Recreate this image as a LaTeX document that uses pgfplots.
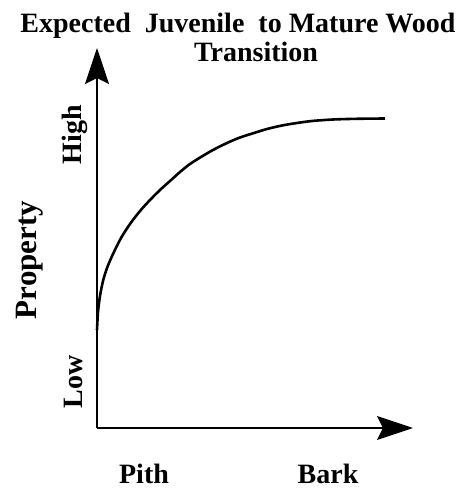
\documentclass[border=0pt]{standalone}
\usepackage{pgfplots}
\pgfplotsset{compat=1.18}
\usepackage{fontspec}
\setmainfont{Liberation Serif}
\usetikzlibrary{arrows.meta}

\begin{document}
\begin{tikzpicture}
\begin{axis}[
    anchor=origin, at={(0pt,0pt)},
    scale only axis,
    width=316pt, height=380pt,
    xmin=0, xmax=316,
    ymin=0, ymax=380,
    axis lines=left,
    axis line style={line width=1.8pt, -{Stealth[length=36pt,width=24pt,inset=6pt]}},
    xtick=\empty, ytick=\empty,
    clip=false,
]
% schematic curve, pixel-ish units measured from the origin
\addplot[line width=2.6pt, smooth] coordinates {
    (0,98) (1,116) (3,132) (6,147) (10,160) (16,174) (24,190) (33,204)
    (43,217) (53,228) (63,238) (73,247) (83,256) (93,264) (104,271)
    (116,278) (130,285) (143,290.5) (157,295) (170,299) (185,302.5)
    (200,305) (215,307) (236,308.5) (260,309.2) (288,309.5)
};
\end{axis}

% title and labels
\begin{scope}[font=\bfseries\fontsize{28}{29}\selectfont]
\node[anchor=base] at (141pt,395pt) {Expected\ \ Juvenile\ \ to Mature Wood};
\node[anchor=base] at (159pt,366pt) {Transition};
\node[anchor=base] at (47pt,-55pt) {Pith};
\node[anchor=base] at (231pt,-55pt) {Bark};
\node[anchor=base, rotate=90] at (-15pt,293pt) {High};
\node[anchor=base, rotate=90] at (-14pt,46pt) {Low};
\end{scope}
\node[anchor=base, rotate=90, font=\bfseries\fontsize{31}{32}\selectfont] at (-60pt,168pt) {Property};

\useasboundingbox (-97pt,-60pt) rectangle (367pt,428pt);
\end{tikzpicture}
\end{document}
